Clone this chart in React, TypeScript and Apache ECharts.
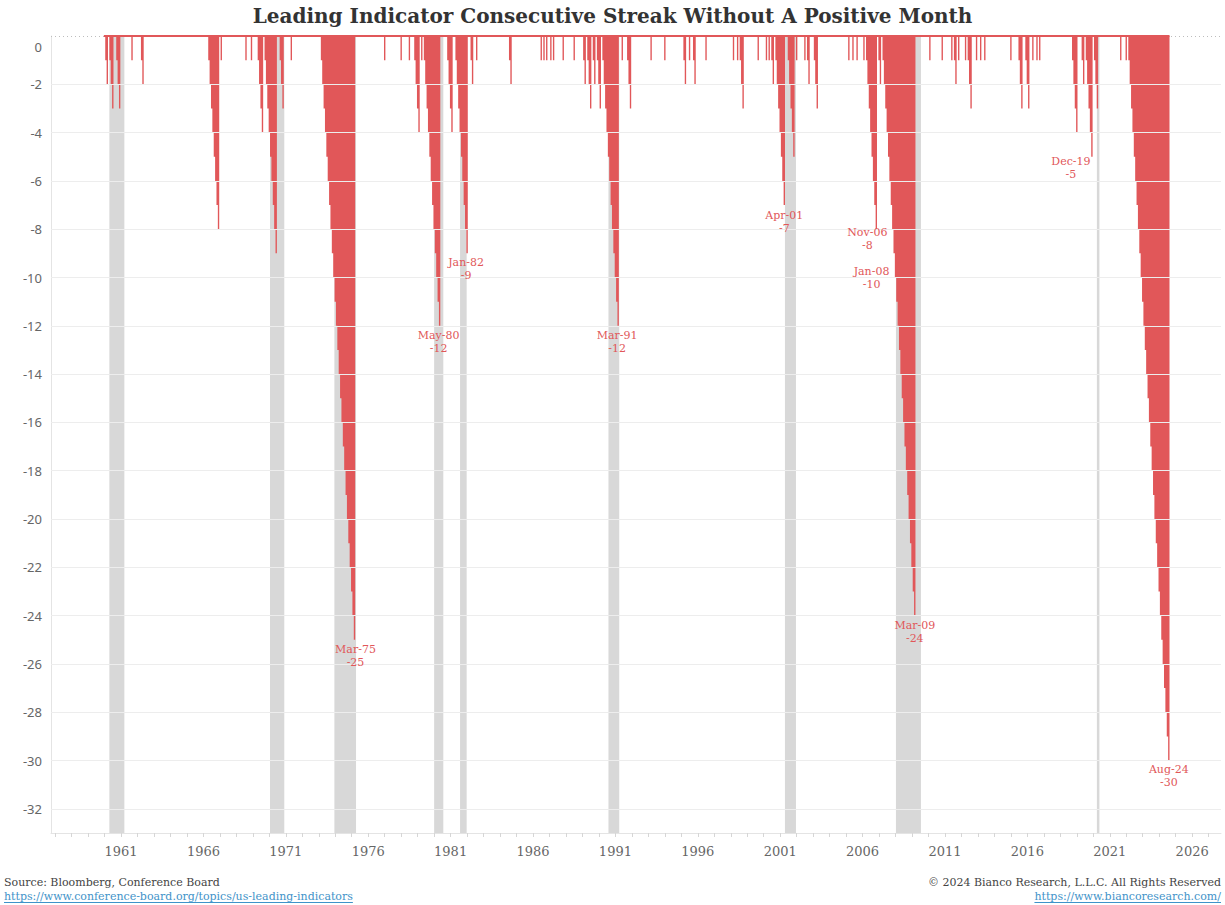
import React, { useEffect, useRef } from "react";
import * as echarts from "echarts";

// ---------- DATA ----------
const FIRST_MONTH = "1960-01";
const LAST_MONTH = "2024-08";

// Each streak of consecutive months without a positive LEI change: first month and length (months)
const streakStarts = [
  "1960-02", "1960-05", "1960-10", "1961-09", "1962-04", "1966-05", "1967-02", "1968-08",
  "1968-12", "1969-05", "1969-10", "1970-09", "1971-05", "1973-03", "1977-01", "1978-01",
  "1978-07", "1978-11", "1979-04", "1979-06", "1980-11", "1981-05", "1982-04", "1982-08",
  "1984-08", "1986-07", "1986-09", "1986-11", "1987-02", "1987-04", "1987-11", "1988-07",
  "1989-02", "1989-05", "1989-09", "1989-12", "1990-04", "1991-06", "1991-10", "1993-03",
  "1994-01", "1995-03", "1995-07", "1995-10", "1996-07", "1998-03", "1998-06", "1998-08",
  "1999-09", "2000-03", "2000-05", "2000-07", "2000-10", "2001-07", "2002-01", "2002-07",
  "2002-09", "2003-02", "2005-03", "2005-06", "2005-09", "2006-02", "2006-04", "2007-01",
  "2007-04", "2010-02", "2010-11", "2011-06", "2011-08", "2011-11", "2012-04", "2012-06",
  "2012-12", "2013-03", "2013-06", "2015-01", "2015-07", "2015-12", "2016-05", "2016-08",
  "2016-10", "2018-10", "2019-05", "2019-08", "2020-02", "2021-09", "2022-01", "2022-03",
];
const streakLengths = [
  2, 3, 3, 1, 2, 8, 1, 1,
  1, 4, 9, 3, 1, 25, 1, 1,
  1, 4, 1, 12, 4, 9, 2, 1,
  2, 1, 1, 1, 1, 1, 1, 1,
  2, 3, 2, 3, 12, 1, 3, 1,
  1, 2, 1, 2, 1, 1, 1, 3,
  1, 1, 1, 2, 7, 5, 1, 1,
  2, 3, 1, 1, 1, 1, 8, 2,
  24, 1, 1, 1, 2, 1, 1, 3,
  1, 1, 1, 1, 3, 3, 1, 1,
  1, 4, 2, 5, 3, 1, 1, 30,
];

// Recession shading (start, end)
const recessionStarts = [
  "1960-04-16", "1970-01-16", "1973-12-12", "1980-01-01", "1981-07-28",
  "1990-07-30", "2001-04-15", "2008-01-10", "2020-03-20",
];
const recessionEnds = [
  "1961-03-14", "1970-11-28", "1975-04-05", "1980-07-22", "1981-12-22",
  "1991-03-25", "2001-12-16", "2009-07-16", "2020-05-15",
];

// Annotated points
const annotationMonths = [
  "1975-03", "1980-05", "1982-01", "1991-03", "2001-04",
  "2006-11", "2008-01", "2009-03", "2019-12", "2024-08",
];
const annotationValues = [-25, -12, -9, -12, -7, -8, -10, -24, -5, -30];

const xTickYears = [1961, 1966, 1971, 1976, 1981, 1986, 1991, 1996, 2001, 2006, 2011, 2016, 2021, 2026];
const yTickValues = [0, -2, -4, -6, -8, -10, -12, -14, -16, -18, -20, -22, -24, -26, -28, -30, -32];

// ---------- STYLE ----------
const RED = "#E15759";
const BAND = "#D8D8D8";
const SERIF = '"DejaVu Serif", Georgia, serif';
const SANS = '"Noto Sans", Arial, sans-serif';
const annotationOffsets: [number, number][] = [
  [1, 16], [-1, 16.5], [-1, 16], [-1, 16.5], [0, 16.5],
  [-9, 10], [-24, 0], [0, 16.5], [-21, 11], [0, 15.5],
];
const MONTH_NAMES = ["Jan", "Feb", "Mar", "Apr", "May", "Jun", "Jul", "Aug", "Sep", "Oct", "Nov", "Dec"];

function monthIndex(s: string): number {
  const [y, m] = s.split("-").map(Number);
  return (y - 1961) * 12 + (m - 1);
}
function monthToX(s: string): number {
  return 1961 + monthIndex(s) / 12;
}
function dateToX(s: string): number {
  const [y, m, d] = s.split("-").map(Number);
  return y + (m - 1) / 12 + ((d || 1) - 1) / 365;
}
function monthLabel(s: string): string {
  const [y, m] = s.split("-").map(Number);
  return `${MONTH_NAMES[m - 1]}-${String(y % 100).padStart(2, "0")}`;
}

// monthly streak values; each point is placed at the end of its month (step "start" fills the month)
function buildSeries(): [number, number][] {
  const vals = new Map<number, number>();
  streakStarts.forEach((s, k) => {
    const i0 = monthIndex(s);
    for (let j = 0; j < streakLengths[k]; j++) vals.set(i0 + j, -(j + 1));
  });
  const out: [number, number][] = [];
  for (let i = monthIndex(FIRST_MONTH); i <= monthIndex(LAST_MONTH); i++) {
    out.push([1961 + (i + 0.5) / 12, vals.get(i) ?? 0]);
  }
  return out;
}

const FOOT_FONT = `11px ${SERIF}`;

function textWidth(text: string, font: string): number {
  const c = document.createElement("canvas").getContext("2d");
  if (!c) return text.length * 6;
  c.font = font;
  return c.measureText(text).width;
}

export default function App() {
  const ref = useRef<HTMLDivElement>(null);
  useEffect(() => {
    if (!ref.current) return;
    const chart = echarts.init(ref.current, undefined, { renderer: "svg" });
    const data = buildSeries();
    const yearTicks: number[] = [];
    for (let y = 1957; y <= 2027; y++) yearTicks.push(y);

    const leftUrl = "https://www.conference-board.org/topics/us-leading-indicators";
    const rightUrl = "https://www.biancoresearch.com/";
    const wl = textWidth(leftUrl, FOOT_FONT);
    const wr = textWidth(rightUrl, FOOT_FONT);
    const LINK = "#3f93c9";

    chart.setOption({
      animation: false,
      backgroundColor: "#ffffff",
      title: {
        text: "Leading Indicator Consecutive Streak Without A Positive Month",
        left: "center",
        top: 1,
        textStyle: { fontFamily: SERIF, fontWeight: "bold", fontSize: 20, color: "#333333" },
      },
      grid: { left: 51, right: 4, top: 36, bottom: 72, containLabel: false, outerBoundsMode: "none" },
      xAxis: {
        type: "value",
        min: 1956.75,
        max: 2027.75,
        splitLine: { show: false },
        axisLine: { show: true, onZero: false, lineStyle: { color: "#e4e4e4", width: 1 } },
        axisTick: { show: true, customValues: yearTicks, length: 4, lineStyle: { color: "#d6d6d6" } },
        axisLabel: {
          customValues: xTickYears,
          formatter: (v: number) => String(Math.round(v)),
          fontFamily: SERIF,
          fontSize: 13,
          color: "#666666",
          margin: 12,
        },
      },
      yAxis: {
        type: "value",
        min: -33,
        max: 0,
        splitLine: { show: false },
        axisTick: { show: false },
        axisLine: { show: true, onZero: false, lineStyle: { color: "#e4e4e4", width: 1 } },
        axisLabel: {
          customValues: yTickValues,
          formatter: (v: number) => (v === 0 ? "{z|0}" : String(v)),
          fontFamily: SANS,
          fontSize: 13,
          color: "#666666",
          margin: 9,
          rich: { z: { padding: [22, 0, 0, 0], fontFamily: SANS, fontSize: 13, color: "#666666" } },
        },
      },
      series: [
        {
          type: "line",
          data: [],
          z: 1,
          silent: true,
          markArea: {
            silent: true,
            itemStyle: { color: BAND },
            data: recessionStarts.map((s, i) => [{ xAxis: dateToX(s) }, { xAxis: dateToX(recessionEnds[i]) }]),
          },
        },
        {
          type: "line",
          data: [],
          z: 2,
          silent: true,
          markLine: {
            silent: true,
            symbol: "none",
            label: { show: false },
            lineStyle: { color: "#ededed", width: 1, type: "solid" },
            data: yTickValues
              .filter((v) => v !== 0)
              .map((v) => ({ yAxis: v }))
              .concat([{ yAxis: 0, lineStyle: { color: "#bdbdbd", width: 1, type: [1, 3] } } as any]),
          },
        },
        {
          type: "line",
          step: "start",
          data,
          symbol: "none",
          showSymbol: false,
          lineStyle: { width: 0, opacity: 0 },
          areaStyle: { color: RED, opacity: 1 },
          z: 3,
          silent: true,
          markLine: {
            silent: true,
            symbol: "none",
            label: { show: false },
            lineStyle: { color: RED, width: 2, type: "solid" },
            data: [[{ coord: [data[0][0] - 1 / 12, 0] }, { coord: [data[data.length - 1][0], 0] }]],
          },
          markPoint: {
            silent: true,
            z: 10,
            symbol: "circle",
            symbolSize: 0,
            itemStyle: { color: "transparent" },
            label: {
              show: true,
              position: "inside",
              color: RED,
              fontFamily: SERIF,
              fontSize: 11,
              lineHeight: 13,
              align: "center",
              verticalAlign: "middle",
            },
            data: annotationMonths.map((m, i) => ({
              coord: [monthToX(m), annotationValues[i]],
              value: annotationValues[i],
              label: {
                show: true,
                position: "inside",
                offset: annotationOffsets[i],
                formatter: `${monthLabel(m)}\n${annotationValues[i]}`,
              },
            })),
          },
        },
      ],
      graphic: [
        {
          type: "text", x: 4, y: 882,
          style: { text: "Source: Bloomberg, Conference Board", font: FOOT_FONT, fill: "#444444", textVerticalAlign: "middle" },
        },
        {
          type: "text", x: 4, y: 896,
          style: { text: leftUrl, font: FOOT_FONT, fill: LINK, textVerticalAlign: "middle" },
        },
        { type: "line", shape: { x1: 4, y1: 902.5, x2: 4 + wl, y2: 902.5 }, style: { stroke: LINK, lineWidth: 1 } },
        {
          type: "text", x: 1221, y: 882,
          style: { text: "© 2024 Bianco Research, L.L.C. All Rights Reserved", font: FOOT_FONT, fill: "#444444", textAlign: "right", textVerticalAlign: "middle" },
        },
        {
          type: "text", x: 1221, y: 896,
          style: { text: rightUrl, font: FOOT_FONT, fill: LINK, textAlign: "right", textVerticalAlign: "middle" },
        },
        { type: "line", shape: { x1: 1221 - wr, y1: 902.5, x2: 1221, y2: 902.5 }, style: { stroke: LINK, lineWidth: 1 } },
      ],
    });
    return () => chart.dispose();
  }, []);
  return <div ref={ref} style={{ position: "fixed", left: 0, top: 0, width: "1225px", height: "905px" }} />;
}
